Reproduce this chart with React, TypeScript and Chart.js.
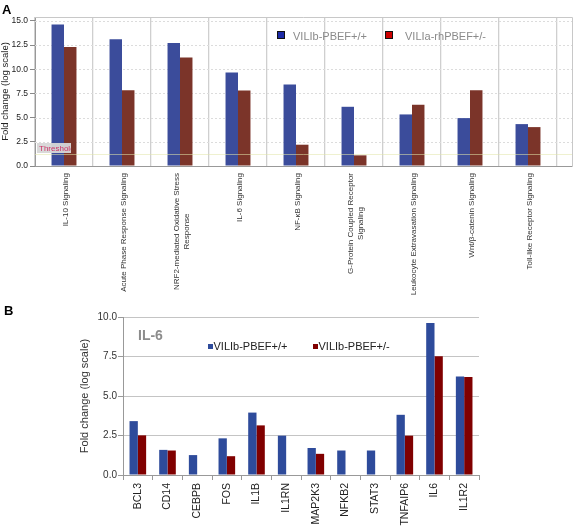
import React, { useEffect, useRef } from "react";
import { Chart, registerables } from "chart.js";

Chart.register(...registerables);

const FONT = "'Liberation Sans', Arial, sans-serif";

// Panel A — pathways
const pathwayLabels: string[][] = [
  ["IL-10 Signaling"],
  ["Acute Phase Response Signaling"],
  ["NRF2-mediated Oxidative Stress", "Response"],
  ["IL-6 Signaling"],
  ["NF-κB Signaling"],
  ["G-Protein Coupled Receptor", "Signaling"],
  ["Leukocyte Extravasation Signaling"],
  ["Wnt/β-catenin Signaling"],
  ["Toll-like Receptor Signaling"],
];
const pathwayWT = [14.62, 13.1, 12.72, 9.67, 8.43, 6.12, 5.33, 4.95, 4.33];
const pathwayHet = [12.31, 7.84, 11.21, 7.81, 2.2, 1.1, 6.33, 7.84, 4.02];
const pathwayTicks = [0, 2.5, 5, 7.5, 10, 12.5, 15];
const pathwayThreshold = 1.28;
const pathwaySeriesNames = ["VILIb-PBEF+/+", "VILIa-rhPBEF+/-"];

// Panel B — IL-6 genes
const geneLabels = ["BCL3", "CD14", "CEBPB", "FOS", "IL1B", "IL1RN", "MAP2K3", "NFKB2", "STAT3", "TNFAIP6", "IL6", "IL1R2"];
const geneWT = [3.41, 1.59, 1.26, 2.32, 3.95, 2.49, 1.71, 1.55, 1.55, 3.81, 9.62, 6.23];
const geneHet: (number | null)[] = [2.51, 1.55, null, 1.19, 3.14, null, 1.34, null, null, 2.49, 7.51, 6.2];
const geneSeriesNames = ["VILIb-PBEF+/+", "VILIb-PBEF+/-"];

const A_BLUE = "#3b4c9b";
const A_RED = "#7b3429";
const B_BLUE = "#2e4b9b";
const B_RED = "#800000";

export default function App() {
  const refA = useRef<HTMLCanvasElement | null>(null);
  const refB = useRef<HTMLCanvasElement | null>(null);

  useEffect(() => {
    const pluginA = {
      id: "panelA",
      beforeDatasetsDraw(chart: any) {
        const { ctx, chartArea } = chart;
        const ys = chart.scales.y;
        const right = chartArea.right + 15;
        ctx.save();
        ctx.strokeStyle = "#dcdcdc";
        ctx.lineWidth = 1;
        ctx.setLineDash([2, 2]);
        pathwayTicks.forEach((v) => {
          if (v === 0) return;
          const y = Math.round(ys.getPixelForValue(v)) + 0.5;
          ctx.beginPath();
          ctx.moveTo(chartArea.left, y);
          ctx.lineTo(right, y);
          ctx.stroke();
        });
        ctx.setLineDash([]);
        ctx.strokeStyle = "#c8c8c8";
        ctx.beginPath();
        ctx.moveTo(chartArea.left, chartArea.top + 0.5);
        ctx.lineTo(right + 0.5, chartArea.top + 0.5);
        ctx.lineTo(right + 0.5, chartArea.bottom);
        ctx.stroke();
        ctx.restore();
      },
      afterDatasetsDraw(chart: any) {
        const { ctx, chartArea } = chart;
        const ys = chart.scales.y;
        const right = chartArea.right + 15;
        const ty = Math.round(ys.getPixelForValue(pathwayThreshold)) + 0.5;
        ctx.save();
        ctx.strokeStyle = "rgba(225,230,170,0.55)";
        ctx.lineWidth = 1;
        ctx.beginPath();
        ctx.moveTo(chartArea.left, ty);
        ctx.lineTo(right, ty);
        ctx.stroke();
        // threshold label
        const bx = chartArea.left + 2, by = 143, bw = 34, bh = 10;
        ctx.fillStyle = "rgba(215,215,215,0.95)";
        ctx.fillRect(bx, by, bw, bh);
        ctx.beginPath();
        ctx.rect(bx, by, bw, bh);
        ctx.clip();
        ctx.fillStyle = "#cc3366";
        ctx.font = `8px ${FONT}`;
        ctx.textBaseline = "middle";
        ctx.fillText("Threshold", bx + 2, by + bh / 2 + 0.5);
        ctx.restore();
        // bottom axis extension
        ctx.save();
        ctx.strokeStyle = "#999";
        ctx.beginPath();
        ctx.moveTo(chartArea.right, chartArea.bottom + 0.5);
        ctx.lineTo(right + 0.5, chartArea.bottom + 0.5);
        ctx.stroke();
        ctx.restore();
      },
      afterDraw(chart: any) {
        const { ctx, chartArea } = chart;
        const xs = chart.scales.x;
        ctx.save();
        // x labels
        ctx.font = `8px ${FONT}`;
        ctx.fillStyle = "#333";
        ctx.textBaseline = "middle";
        ctx.textAlign = "center";
        pathwayLabels.forEach((lines, i) => {
          const x = xs.getPixelForValue(i) + 1.5;
          const top = chartArea.bottom + 7;
          const maxW = Math.max(...lines.map((l) => ctx.measureText(l).width));
          ctx.save();
          ctx.translate(x, top);
          ctx.rotate(-Math.PI / 2);
          lines.forEach((l, j) => {
            ctx.fillText(l, -maxW / 2, (j - (lines.length - 1) / 2) * 10);
          });
          ctx.restore();
        });
        // legend
        ctx.font = `11px ${FONT}`;
        ctx.textAlign = "left";
        ctx.textBaseline = "alphabetic";
        const items = [
          { x: 277, fill: "#1c2aa6", text: pathwaySeriesNames[0], tx: 293 },
          { x: 385, fill: "#cc0000", text: pathwaySeriesNames[1], tx: 405 },
        ];
        items.forEach((it) => {
          ctx.fillStyle = it.fill;
          ctx.fillRect(it.x, 31, 8, 8);
          ctx.strokeStyle = "#111";
          ctx.lineWidth = 1;
          ctx.strokeRect(it.x + 0.5, 31.5, 7, 7);
          ctx.fillStyle = "#8a8a8a";
          ctx.fillText(it.text, it.tx, 39.5);
        });
        // panel letter
        ctx.fillStyle = "#000";
        ctx.font = `bold 13px ${FONT}`;
        ctx.fillText("A", 2, 14);
        ctx.restore();
      },
    };

    const pluginB = {
      id: "panelB",
      afterDraw(chart: any) {
        const { ctx } = chart;
        ctx.save();
        ctx.textAlign = "left";
        ctx.textBaseline = "alphabetic";
        ctx.font = `bold 14px ${FONT}`;
        ctx.fillStyle = "#8c8c8c";
        ctx.fillText("IL-6", 138, 39.5);
        ctx.font = `11px ${FONT}`;
        const items = [
          { x: 208, fill: B_BLUE, text: geneSeriesNames[0] },
          { x: 313, fill: B_RED, text: geneSeriesNames[1] },
        ];
        items.forEach((it) => {
          ctx.fillStyle = it.fill;
          ctx.fillRect(it.x, 44, 5, 5);
          ctx.fillStyle = "#222";
          ctx.fillText(it.text, it.x + 5.5, 50);
        });
        ctx.fillStyle = "#000";
        ctx.font = `bold 13px ${FONT}`;
        ctx.fillText("B", 4, 15);
        ctx.restore();
      },
    };

    const chartA = new Chart(refA.current as HTMLCanvasElement, {
      type: "bar",
      data: {
        labels: pathwayLabels.map((l) => l.join(" ")),
        datasets: [
          { label: pathwaySeriesNames[0], data: pathwayWT, backgroundColor: A_BLUE, categoryPercentage: 0.43, barPercentage: 1 },
          { label: pathwaySeriesNames[1], data: pathwayHet, backgroundColor: A_RED, categoryPercentage: 0.43, barPercentage: 1 },
        ],
      },
      options: {
        animation: false,
        responsive: false,
        layout: { padding: { left: 0, top: 17, right: 17, bottom: 0 } },
        plugins: { legend: { display: false }, tooltip: { enabled: false } },
        scales: {
          x: {
            afterFit: (s: any) => { s.height = 134; },
            ticks: { display: false },
            grid: { color: "#cfcfcf", lineWidth: 1.3, drawTicks: false, offset: true },
            border: { color: "#999" },
          },
          y: {
            min: 0,
            max: 15.4,
            afterBuildTicks: (s: any) => { s.ticks = pathwayTicks.map((v) => ({ value: v })); },
            afterFit: (s: any) => { s.width = 35; },
            ticks: {
              font: { family: FONT, size: 8.5 },
              color: "#222",
              padding: 2,
              callback: (v: any) => Number(v).toFixed(1),
            },
            grid: { drawOnChartArea: false, tickLength: 5, tickColor: "#888" },
            border: { color: "#999" },
            title: {
              display: true,
              text: "Fold change (log scale)",
              font: { family: FONT, size: 9.5, lineHeight: 1 },
              color: "#222",
              padding: { top: 1, bottom: 0 },
            },
          },
        },
      },
      plugins: [pluginA],
    } as any);

    const chartB = new Chart(refB.current as HTMLCanvasElement, {
      type: "bar",
      data: {
        labels: geneLabels,
        datasets: [
          { label: geneSeriesNames[0], data: geneWT, backgroundColor: B_BLUE, categoryPercentage: 0.56, barPercentage: 1 },
          { label: geneSeriesNames[1], data: geneHet, backgroundColor: B_RED, categoryPercentage: 0.56, barPercentage: 1 },
        ],
      },
      options: {
        animation: false,
        responsive: false,
        layout: { padding: { left: 79, top: 17, right: 95, bottom: 0 } },
        plugins: { legend: { display: false }, tooltip: { enabled: false } },
        scales: {
          x: {
            afterFit: (s: any) => { s.height = 52; },
            ticks: {
              font: { family: FONT, size: 10.5 },
              color: "#222",
              minRotation: 90,
              maxRotation: 90,
              autoSkip: false,
              padding: 3,
            },
            grid: { drawOnChartArea: false, tickLength: 5, color: "#999", offset: true },
            border: { color: "#999" },
          },
          y: {
            min: 0,
            max: 10,
            ticks: {
              stepSize: 2.5,
              font: { family: FONT, size: 10 },
              color: "#333",
              padding: 1,
              callback: (v: any) => Number(v).toFixed(1),
            },
            afterFit: (s: any) => { s.width = 44; },
            grid: { color: "#c4c4c4", tickLength: 5, tickColor: "#999" },
            border: { color: "#999" },
            title: {
              display: true,
              text: "Fold change (log scale)",
              font: { family: FONT, size: 11, lineHeight: 1 },
              color: "#333",
              padding: { top: 0, bottom: 0 },
            },
          },
        },
      },
      plugins: [pluginB],
    } as any);

    return () => {
      chartA.destroy();
      chartB.destroy();
    };
  }, []);

  return (
    <div style={{ position: "absolute", left: 0, top: 0, width: 574, height: 527, background: "#fff" }}>
      <canvas ref={refA} width={574} height={300} style={{ position: "absolute", left: 0, top: 0, display: "block" }} />
      <canvas ref={refB} width={574} height={227} style={{ position: "absolute", left: 0, top: 300, display: "block" }} />
    </div>
  );
}
